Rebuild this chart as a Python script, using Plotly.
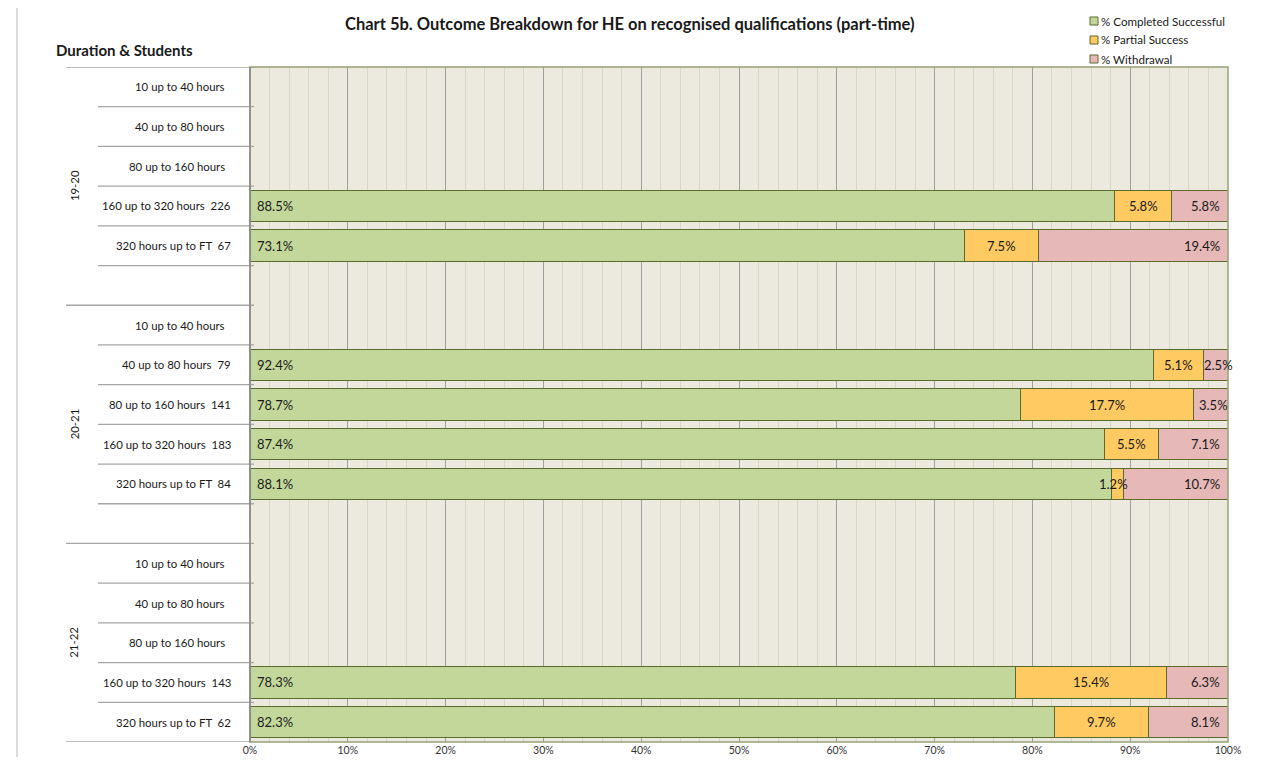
import plotly.graph_objects as go

# ---------------- data ----------------
years = ["19-20", "20-21", "21-22"]
durations = ["10 up to 40 hours", "40 up to 80 hours", "80 up to 160 hours",
             "160 up to 320 hours", "320 hours up to FT"]
students = {
    "19-20": [None, None, None, 226, 67],
    "20-21": [None, 79, 141, 183, 84],
    "21-22": [None, None, None, 143, 62],
}
completed = {
    "19-20": [None, None, None, 88.5, 73.1],
    "20-21": [None, 92.4, 78.7, 87.4, 88.1],
    "21-22": [None, None, None, 78.3, 82.3],
}
partial = {
    "19-20": [None, None, None, 5.8, 7.5],
    "20-21": [None, 5.1, 17.7, 5.5, 1.2],
    "21-22": [None, None, None, 15.4, 9.7],
}
withdrawal = {
    "19-20": [None, None, None, 5.8, 19.4],
    "20-21": [None, 2.5, 3.5, 7.1, 10.7],
    "21-22": [None, None, None, 6.3, 8.1],
}
series_names = ["% Completed Successful", "% Partial Success", "% Withdrawal"]
x_ticks = [0, 10, 20, 30, 40, 50, 60, 70, 80, 90, 100]

# ---------------- style ----------------
C_GREEN = "#C4D79B"
C_ORANGE = "#FFCA62"
C_PINK = "#E6B9B8"
C_EDGE = "#5A6B2C"
FONT = "Lato"
OFF = 8  # default page body margin
W, H = 1264, 749
ML, MT = 250 - OFF, 67 - OFF
MR = W - (1228 - OFF)
MB = H - (742 - OFF)
PW, PH = W - ML - MR, H - MT - MB


def px_x(p):
    return (p - OFF - ML) / PW


def px_y(p):
    return (H - MB - (p - OFF)) / PH


# row positions (numeric, reversed axis); blank row after each group
rows_y, row_labels, row_has_n = [], [], []
idx = 0
group_spans = []
for gi, yr in enumerate(years):
    start = idx
    for di, d in enumerate(durations):
        rows_y.append(idx)
        s = students[yr][di]
        row_labels.append(d + ("  " + str(s) if s is not None else ""))
        row_has_n.append(s is not None)
        idx += 1
    group_spans.append((start, idx - 1))
    if gi < len(years) - 1:
        idx += 1  # spacer row
n_rows = idx

comp_vals, part_vals, wd_vals = [], [], []
for yr in years:
    comp_vals += completed[yr]
    part_vals += partial[yr]
    wd_vals += withdrawal[yr]

fig = go.Figure()
for name, vals, col in [(series_names[0], comp_vals, C_GREEN),
                        (series_names[1], part_vals, C_ORANGE),
                        (series_names[2], wd_vals, C_PINK)]:
    fig.add_trace(go.Bar(
        y=rows_y, x=[v / 100 if v is not None else None for v in vals],
        orientation="h", name=name,
        marker=dict(color=col, line=dict(color=C_EDGE, width=1)),
        showlegend=False, hoverinfo="x+name",
    ))

annotations = []
shapes = []
LBL = dict(family=FONT, size=13, color="#1a1a1a")

# value labels
for y, c, p, w in zip(rows_y, comp_vals, part_vals, wd_vals):
    if c is None:
        continue
    total = c + p + w
    c_f, p_f, w_f = c / total, p / total, w / total
    annotations.append(dict(x=0, y=y, xref="x", yref="y", text=f"{c:.1f}%",
                            xanchor="left", xshift=5, showarrow=False, font=LBL))
    annotations.append(dict(x=c_f + p_f / 2, y=y, xref="x", yref="y", text=f"{p:.1f}%",
                            xanchor="center", xshift=-4 if p < 3 else 0,
                            showarrow=False, font=LBL))
    if w >= 4:
        annotations.append(dict(x=1, y=y, xref="x", yref="y", text=f"{w:.1f}%",
                                xanchor="right", xshift=-6, showarrow=False, font=LBL))
    else:
        annotations.append(dict(x=1 - w_f / 2, y=y, xref="x", yref="y", text=f"{w:.1f}%",
                                xanchor="center", xshift=3, showarrow=False, font=LBL))

# category labels
for y, lab, has_n in zip(rows_y, row_labels, row_has_n):
    annotations.append(dict(x=px_x(233 if has_n else 227), y=y, xref="paper", yref="y",
                            text=lab, xanchor="right", showarrow=False,
                            font=dict(family=FONT, size=11.4, color="#1a1a1a")))

# group labels
for (s, e), yr in zip(group_spans, years):
    gend = e + 1 if yr != years[-1] else e
    annotations.append(dict(x=px_x(74), y=(s + gend) / 2, xref="paper", yref="y",
                            text=yr, textangle=-90, showarrow=False,
                            xanchor="center", yanchor="middle",
                            font=dict(family=FONT, size=11.4, color="#1a1a1a")))

# horizontal lines in the label area
LINE_C = "#A6A6A6"
group_bounds = set()
for gi, (s, e) in enumerate(group_spans):
    if gi < len(group_spans) - 1:
        group_bounds.add(e + 1.5)
for b in [r - 0.5 for r in range(1, n_rows)]:
    x0 = px_x(66) if b in group_bounds else px_x(98)
    shapes.append(dict(type="line", xref="paper", yref="y", x0=x0, x1=px_x(254),
                       y0=b, y1=b, line=dict(color=LINE_C, width=1.3)))
for b in [-0.5, n_rows - 0.5]:
    shapes.append(dict(type="line", xref="paper", yref="y", x0=px_x(66), x1=px_x(254),
                       y0=b, y1=b, line=dict(color=LINE_C, width=1.3)))

# plot area border (olive) and left axis line (gray)
shapes.append(dict(type="rect", xref="paper", yref="paper", x0=0, x1=1, y0=0, y1=1,
                   line=dict(color="#98A278", width=1.5), layer="above"))
shapes.append(dict(type="line", xref="paper", yref="paper", x0=0, x1=0, y0=0, y1=1,
                   line=dict(color="#8A8A8A", width=1.5), layer="above"))
# outer chart border
shapes.append(dict(type="rect", xref="paper", yref="paper",
                   x0=px_x(17), x1=px_x(1273), y0=px_y(790), y1=px_y(5),
                   line=dict(color="#D0D0D0", width=1.5)))

# custom legend
leg_y = [21, 40, 59]
for name, col, yy in zip(series_names, [C_GREEN, C_ORANGE, C_PINK], leg_y):
    shapes.append(dict(type="rect", xref="paper", yref="paper",
                       x0=px_x(1090), x1=px_x(1098), y0=px_y(yy + 4), y1=px_y(yy - 4),
                       fillcolor=col, line=dict(color=C_EDGE, width=1)))
    annotations.append(dict(x=px_x(1099), y=px_y(yy), xref="paper", yref="paper",
                            text=name, xanchor="left", yanchor="middle", showarrow=False,
                            font=dict(family=FONT, size=11.6, color="#1a1a1a")))

# title and axis title
annotations.append(dict(x=px_x(630), y=px_y(24), xref="paper", yref="paper",
                        text="<b>Chart 5b. Outcome Breakdown for HE on recognised qualifications (part-time)</b>",
                        xanchor="center", yanchor="middle", showarrow=False,
                        font=dict(family=FONT, size=16.5, color="#1a1a1a")))
annotations.append(dict(x=px_x(54), y=px_y(50), xref="paper", yref="paper",
                        text="<b>Duration &amp; Students</b>",
                        xanchor="left", yanchor="middle", showarrow=False,
                        font=dict(family=FONT, size=15, color="#1a1a1a")))

fig.update_layout(
    width=W, height=H,
    margin=dict(l=ML, r=MR, t=MT, b=MB, pad=0, autoexpand=False),
    barmode="stack", barnorm="fraction", bargap=0.21,
    plot_bgcolor="#ECEADF", paper_bgcolor="white",
    showlegend=False,
    xaxis=dict(range=[0, 1], tickvals=[t / 100 for t in x_ticks],
               ticktext=[f"{t}%" for t in x_ticks], automargin=False,
               showgrid=True, gridcolor="#9E9E9E", gridwidth=1,
               minor=dict(dtick=0.02, showgrid=True, gridcolor="#D9D7C3", gridwidth=1),
               zeroline=False, showline=False, ticks="", ticklabelstandoff=0,
               tickfont=dict(family=FONT, size=10.5, color="#333333")),
    yaxis=dict(range=[n_rows - 0.5, -0.5], showticklabels=False, showgrid=False,
               zeroline=False, showline=False, ticks="", automargin=False),
    annotations=annotations, shapes=shapes,
)

fig.write_html("out.html")
